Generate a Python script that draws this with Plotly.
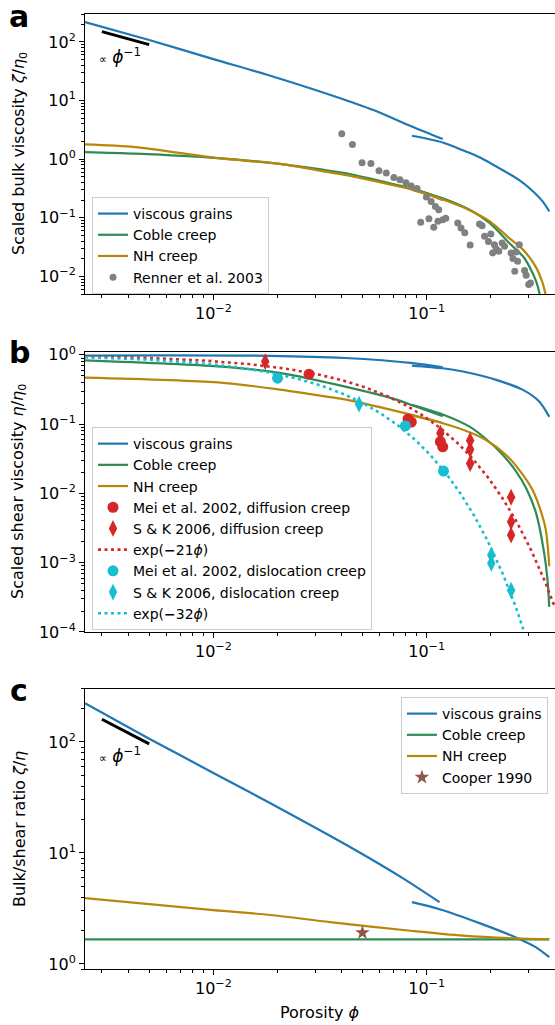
import numpy as np
import plotly.graph_objects as go

BLUE = "#1f77b4"
GREEN = "#2e8b57"
GOLD = "#b8860b"
GRAY = "#808080"
RED = "#d62728"
CYAN = "#17becf"
BROWN = "#8c564b"
FONT = "DejaVu Sans"

# ---------------- panel a: scaled bulk viscosity zeta/eta0 ----------------
a_grains_lo_phi = [0.0025, 0.005, 0.01, 0.0185, 0.0378, 0.0559, 0.0853, 0.119]
a_grains_lo_val = [219, 108, 51, 26.5, 11.5, 6.95, 3.6, 2.2]
a_grains_hi_phi = [0.0853, 0.119, 0.148, 0.177, 0.236, 0.272, 0.303, 0.350, 0.376]
a_grains_hi_val = [2.51, 1.93, 1.42, 1.08, 0.60, 0.44, 0.322, 0.19, 0.128]

a_coble_lo_phi = [0.0025, 0.0043, 0.0105, 0.0205, 0.0352, 0.0413, 0.0896, 0.119]
a_coble_lo_val = [1.32, 1.24, 1.04, 0.83, 0.634, 0.58, 0.30, 0.21]
a_coble_hi_phi = [0.085, 0.119, 0.159, 0.198, 0.244, 0.283, 0.303, 0.326, 0.338, 0.350, 0.360]
a_coble_hi_val = [0.31, 0.215, 0.137, 0.081, 0.037, 0.022, 0.0148, 0.0083, 0.0052, 0.0025, 0.0008]

a_nh_lo_phi = [0.0025, 0.0043, 0.0105, 0.0205, 0.0352, 0.0413, 0.0896, 0.119]
a_nh_lo_val = [1.79, 1.61, 1.04, 0.83, 0.593, 0.54, 0.29, 0.20]
a_nh_hi_phi = [0.085, 0.119, 0.159, 0.198, 0.244, 0.283, 0.324, 0.350, 0.360, 0.372, 0.376]
a_nh_hi_val = [0.30, 0.205, 0.135, 0.087, 0.045, 0.0286, 0.0148, 0.0077, 0.0052, 0.0022, 0.0010]

renner_phi = [0.0400, 0.0449, 0.0498, 0.0548, 0.0598, 0.0647, 0.0702, 0.0750, 0.0800,
              0.0847, 0.0902, 0.0998, 0.105, 0.110, 0.114, 0.0938, 0.1025, 0.108,
              0.113, 0.119, 0.123, 0.140, 0.145, 0.151, 0.160, 0.177, 0.182, 0.187,
              0.200, 0.195, 0.208, 0.212, 0.204, 0.218, 0.226, 0.232, 0.249, 0.254,
              0.263, 0.267, 0.259, 0.288, 0.293, 0.301, 0.307, 0.272]
renner_val = [2.71, 1.78, 0.869, 0.845, 0.634, 0.580, 0.488, 0.446, 0.396,
              0.348, 0.317, 0.226, 0.190, 0.156, 0.137, 0.0835, 0.0966, 0.0686,
              0.0869, 0.0929, 0.0977, 0.0815, 0.0670, 0.0557, 0.0344, 0.0784, 0.0733, 0.0482,
              0.0530, 0.0392, 0.0348, 0.0294, 0.0251, 0.0268, 0.0372, 0.0326, 0.0251, 0.0201,
              0.0261, 0.0181, 0.0122, 0.0126, 0.0104, 0.00725, 0.00774, 0.0348]

# ---------------- panel b: scaled shear viscosity eta/eta0 ----------------
b_grains_lo_phi = [0.0025, 0.0185, 0.0413, 0.0862, 0.119]
b_grains_lo_val = [0.977, 0.967, 0.90, 0.76, 0.66]
b_grains_hi_phi = [0.0853, 0.119, 0.148, 0.212, 0.283, 0.338, 0.376]
b_grains_hi_val = [0.70, 0.64, 0.574, 0.435, 0.312, 0.211, 0.128]

b_coble_lo_phi = [0.0025, 0.0105, 0.0205, 0.0352, 0.0721, 0.0896, 0.119]
b_coble_lo_val = [0.83, 0.68, 0.55, 0.39, 0.226, 0.178, 0.130]
b_coble_hi_phi = [0.085, 0.119, 0.159, 0.190, 0.228, 0.263, 0.293, 0.326, 0.356, 0.369, 0.376]
b_coble_hi_val = [0.19, 0.138, 0.092, 0.061, 0.0359, 0.0206, 0.0119, 0.0052, 0.00136, 0.00056, 0.00023]

b_nh_lo_phi = [0.0025, 0.0105, 0.0205, 0.0352, 0.0413, 0.0862, 0.119]
b_nh_lo_val = [0.47, 0.40, 0.315, 0.245, 0.228, 0.135, 0.104]
b_nh_hi_phi = [0.085, 0.119, 0.159, 0.190, 0.236, 0.283, 0.314, 0.338, 0.362, 0.376]
b_nh_hi_val = [0.133, 0.103, 0.0764, 0.059, 0.0359, 0.0185, 0.0112, 0.0064, 0.0030, 0.00089]

mei_diff_phi = [0.0281, 0.0818, 0.0848, 0.116, 0.119]
mei_diff_val = [0.526, 0.119, 0.107, 0.056, 0.047]
sk_diff_phi = [0.0175, 0.116, 0.116, 0.160, 0.160, 0.160, 0.249, 0.249, 0.249]
sk_diff_val = [0.80, 0.074, 0.058, 0.058, 0.043, 0.027, 0.0088, 0.0039, 0.0025]
mei_disl_phi = [0.0200, 0.0795, 0.120]
mei_disl_val = [0.46, 0.094, 0.021]
sk_disl_phi = [0.0482, 0.201, 0.201, 0.249]
sk_disl_val = [0.194, 0.00129, 0.00098, 0.00040]

diff_rate = 21   # exp(-21 phi)
disl_rate = 32   # exp(-32 phi)

# ---------------- panel c: bulk/shear ratio zeta/eta ----------------
c_grains_lo_phi = [0.0025, 0.005, 0.01, 0.0185, 0.0452, 0.0775, 0.115]
c_grains_lo_val = [223, 107, 52.6, 28.0, 10.9, 5.9, 3.6]
c_grains_hi_phi = [0.0853, 0.115, 0.177, 0.272, 0.326, 0.376]
c_grains_hi_val = [3.6, 3.11, 2.33, 1.68, 1.41, 1.15]

c_coble_phi = [0.0025, 0.376]
c_coble_val = [1.667, 1.667]

c_nh_phi = [0.0025, 0.01, 0.0185, 0.0352, 0.0862, 0.148, 0.263, 0.376]
c_nh_val = [3.91, 3.05, 2.76, 2.38, 1.98, 1.80, 1.70, 1.67]

cooper_phi = [0.05]
cooper_val = [1.91]

# reference slope segments (proportional to 1/phi)
slope_phi = [0.003, 0.005]
slope_a_val = [150, 90]
slope_c_val = [160, 96]

phi_grid = np.geomspace(0.0025, 0.4, 300)

fig = go.Figure()


def line(x, y, color, name, xa, ya, legend, show=True, dash=None, width=2.2, shape="spline"):
    fig.add_trace(go.Scatter(
        x=x, y=y, mode="lines", name=name, xaxis=xa, yaxis=ya,
        legend=legend, showlegend=show,
        line=dict(color=color, width=width, dash=dash, shape=shape, smoothing=0.8),
        hoverinfo="skip"))


def points(x, y, color, name, xa, ya, legend, symbol="circle", size=11):
    fig.add_trace(go.Scatter(
        x=x, y=y, mode="markers", name=name, xaxis=xa, yaxis=ya, legend=legend,
        marker=dict(color=color, size=size, symbol=symbol, line=dict(width=0)),
        hoverinfo="skip"))


# panel a
line(a_grains_lo_phi, a_grains_lo_val, BLUE, "viscous grains", "x", "y", "legend")
line(a_grains_hi_phi, a_grains_hi_val, BLUE, "viscous grains", "x", "y", "legend", show=False)
line(a_coble_lo_phi, a_coble_lo_val, GREEN, "Coble creep", "x", "y", "legend")
line(a_coble_hi_phi, a_coble_hi_val, GREEN, "Coble creep", "x", "y", "legend", show=False)
line(a_nh_lo_phi, a_nh_lo_val, GOLD, "NH creep", "x", "y", "legend")
line(a_nh_hi_phi, a_nh_hi_val, GOLD, "NH creep", "x", "y", "legend", show=False)
points(renner_phi, renner_val, GRAY, "Renner et al. 2003", "x", "y", "legend", size=7)
line(slope_phi, slope_a_val, "black", "", "x", "y", "legend", show=False, width=3, shape="linear")

# panel b
line(b_grains_lo_phi, b_grains_lo_val, BLUE, "viscous grains", "x2", "y2", "legend2")
line(b_grains_hi_phi, b_grains_hi_val, BLUE, "viscous grains", "x2", "y2", "legend2", show=False)
line(b_coble_lo_phi, b_coble_lo_val, GREEN, "Coble creep", "x2", "y2", "legend2")
line(b_coble_hi_phi, b_coble_hi_val, GREEN, "Coble creep", "x2", "y2", "legend2", show=False)
line(b_nh_lo_phi, b_nh_lo_val, GOLD, "NH creep", "x2", "y2", "legend2")
line(b_nh_hi_phi, b_nh_hi_val, GOLD, "NH creep", "x2", "y2", "legend2", show=False)
points(mei_diff_phi, mei_diff_val, RED, "Mei et al. 2002, diffusion creep", "x2", "y2", "legend2")
points(sk_diff_phi, sk_diff_val, RED, "S &amp; K 2006, diffusion creep", "x2", "y2", "legend2",
       symbol="diamond-tall", size=12)
line(phi_grid, np.exp(-diff_rate * phi_grid), RED, "exp(<b>−</b>%d<i>ϕ</i>)" % diff_rate,
     "x2", "y2", "legend2", dash="3px,3.5px", width=2.6, shape="linear")
points(mei_disl_phi, mei_disl_val, CYAN, "Mei et al. 2002, dislocation creep", "x2", "y2", "legend2")
points(sk_disl_phi, sk_disl_val, CYAN, "S &amp; K 2006, dislocation creep", "x2", "y2", "legend2",
       symbol="diamond-tall", size=12)
line(phi_grid, np.exp(-disl_rate * phi_grid), CYAN, "exp(<b>−</b>%d<i>ϕ</i>)" % disl_rate,
     "x2", "y2", "legend2", dash="3px,3.5px", width=2.6, shape="linear")

# panel c
line(c_grains_lo_phi, c_grains_lo_val, BLUE, "viscous grains", "x3", "y3", "legend3")
line(c_grains_hi_phi, c_grains_hi_val, BLUE, "viscous grains", "x3", "y3", "legend3", show=False)
line(c_coble_phi, c_coble_val, GREEN, "Coble creep", "x3", "y3", "legend3", shape="linear")
line(c_nh_phi, c_nh_val, GOLD, "NH creep", "x3", "y3", "legend3")
points(cooper_phi, cooper_val, BROWN, "Cooper 1990", "x3", "y3", "legend3", symbol="star", size=11)
line(slope_phi, slope_c_val, "black", "", "x3", "y3", "legend3", show=False, width=3, shape="linear")


def sup(e):
    return "10<sup>%s</sup>" % (str(e).replace("-", "−"))


x_minor = [3e-3, 4e-3, 5e-3, 6e-3, 7e-3, 8e-3, 9e-3,
           2e-2, 3e-2, 4e-2, 5e-2, 6e-2, 7e-2, 8e-2, 9e-2, 0.2, 0.3, 0.4]


def y_minor(lo, hi):
    return [m * 10.0 ** d for d in range(lo, hi + 1) for m in range(2, 10)]


tickfont = dict(family=FONT, size=16, color="black")
common_x = dict(type="log", range=[np.log10(0.0025), np.log10(0.4)], domain=[0, 1],
                tickmode="array", tickvals=[0.01, 0.1], ticktext=[sup(-2), sup(-1)],
                ticks="outside", ticklen=5, tickwidth=1, tickcolor="black",
                minor=dict(tickmode="array", tickvals=x_minor, ticks="outside", ticklen=3,
                           tickwidth=1, tickcolor="black", showgrid=False),
                showline=True, linecolor="black", linewidth=1, mirror=True,
                showgrid=False, zeroline=False, tickfont=tickfont)


def yaxis(rng, majors, dom, mlo, mhi):
    return dict(type="log", range=rng, domain=dom, tickmode="array",
                tickvals=[10.0 ** e for e in majors], ticktext=[sup(e) for e in majors],
                ticks="outside", ticklen=5, tickwidth=1, tickcolor="black",
                minor=dict(tickmode="array", tickvals=y_minor(mlo, mhi), ticks="outside",
                           ticklen=3, tickwidth=1, tickcolor="black", showgrid=False),
                showline=True, linecolor="black", linewidth=1, mirror=False,
                showgrid=False, zeroline=False, tickfont=tickfont)


legend_style = dict(bgcolor="rgba(255,255,255,0.85)", bordercolor="#cccccc", borderwidth=1,
                    font=dict(family=FONT, size=14), tracegroupgap=0, itemwidth=30)

fig.update_layout(
    width=555, height=1025,
    margin=dict(l=85, r=0, t=14, b=56),
    paper_bgcolor="white", plot_bgcolor="white",
    font=dict(family=FONT, size=15, color="black"),
    xaxis=dict(common_x, anchor="y"),
    xaxis2=dict(common_x, anchor="y2"),
    xaxis3=dict(common_x, anchor="y3"),
    yaxis=yaxis([np.log10(0.005), np.log10(300)], [-2, -1, 0, 1, 2], [0.7068, 1.0], -3, 2),
    yaxis2=yaxis([-4, np.log10(1.1)], [-4, -3, -2, -1, 0], [0.3529, 0.6461], -4, 0),
    yaxis3=yaxis([np.log10(0.9), np.log10(300)], [0, 1, 2], [0.0, 0.2932], -1, 2),
    legend=dict(legend_style, x=0.0149, y=0.8084, xanchor="left", yanchor="top"),
    legend2=dict(legend_style, x=0.0149, y=0.5675, xanchor="left", yanchor="top"),
    legend3=dict(legend_style, x=0.985, y=0.2848, xanchor="right", yanchor="top"),
)


def px_x(p):
    return (p - 85) / 470.0


def px_y(p):
    return (969 - p) / 955.0


ann = []
for letter, top in [("a", 16), ("b", 353), ("c", 690)]:
    ann.append(dict(text="<b>%s</b>" % letter, x=px_x(19), y=px_y(top), xref="paper", yref="paper",
                    showarrow=False, xanchor="center", yanchor="middle",
                    font=dict(family=FONT, size=30, color="black")))
for title, cy in [("Scaled bulk viscosity <i>ζ</i>/<i>η</i><sub>0</sub>", 154),
                  ("Scaled shear viscosity <i>η</i>/<i>η</i><sub>0</sub>", 492),
                  ("Bulk/shear ratio <i>ζ</i>/<i>η</i>", 829)]:
    ann.append(dict(text=title, x=px_x(19), y=px_y(cy), xref="paper", yref="paper",
                    showarrow=False, textangle=-90, xanchor="center", yanchor="middle",
                    font=dict(family=FONT, size=16, color="black")))
ann.append(dict(text="Porosity <i>ϕ</i>", x=px_x(320), y=px_y(1012), xref="paper", yref="paper",
                showarrow=False, xanchor="center", yanchor="middle",
                font=dict(family=FONT, size=16, color="black")))
for cy in [56, 755]:
    ann.append(dict(text="<span style='font-size:11px'>∝</span> <i>ϕ</i><sup>−1</sup>",
                    x=px_x(120), y=px_y(cy), xref="paper", yref="paper",
                    showarrow=False, xanchor="center", yanchor="middle",
                    font=dict(family=FONT, size=17, color="black")))
fig.update_layout(annotations=ann)

fig.write_html("out.html")
